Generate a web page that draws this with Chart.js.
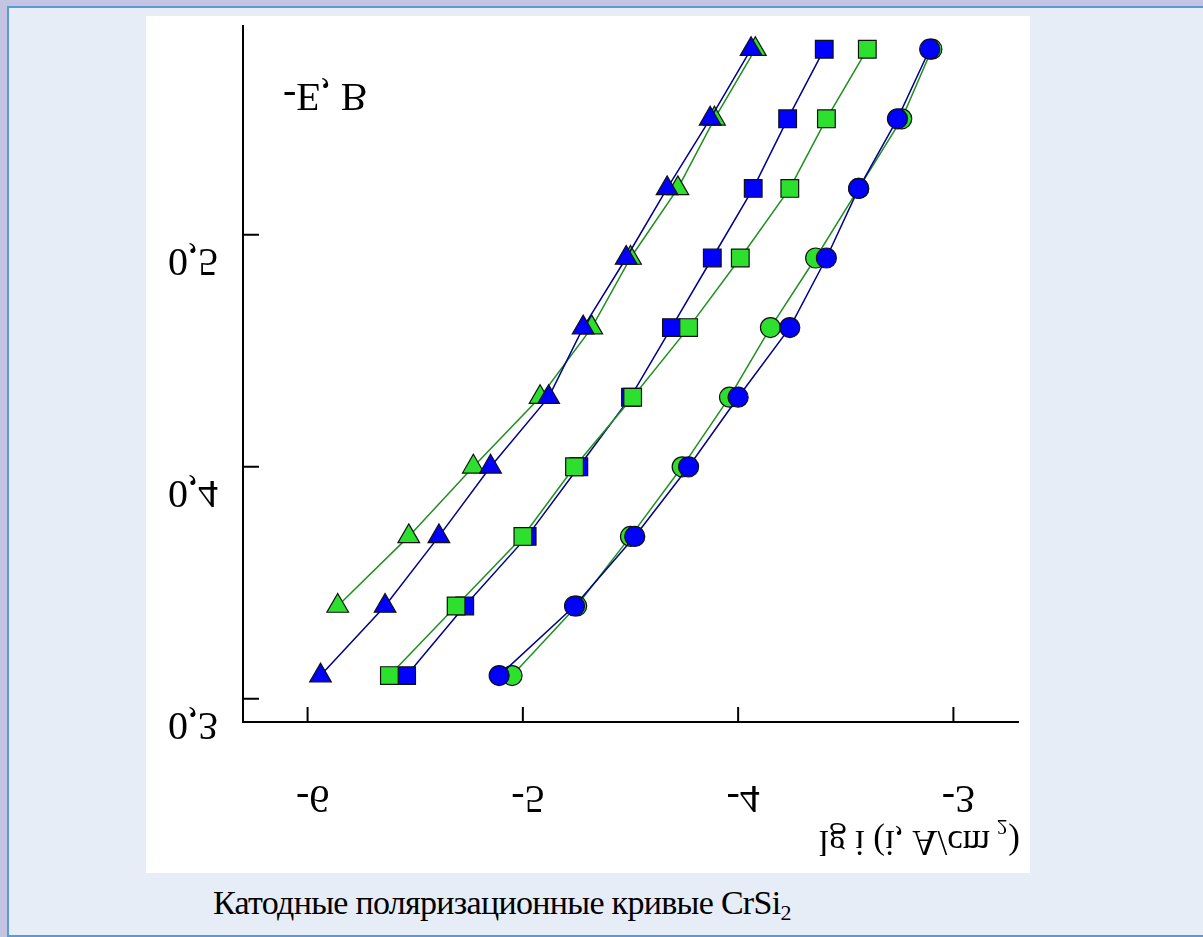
<!DOCTYPE html>
<html>
<head>
<meta charset="utf-8">
<script src="https://cdn.jsdelivr.net/npm/chart.js@4.4.1/dist/chart.umd.min.js"></script>
<style>
  body { margin: 0; width: 1203px; height: 937px; overflow: hidden; background: #c3c4e2; position: relative; }
  #panel { position: absolute; left: 7px; top: 6px; width: 1200px; height: 927px; border: 2px solid #5b9bd5; background: #e6edf6; }
  #plot { position: absolute; left: 146px; top: 16px; width: 884px; height: 857px; background: #fff; }
  #caption { position: absolute; left: 213px; top: 884px; font-family: "Liberation Serif", "Times New Roman", "DejaVu Serif", serif; font-size: 34px; letter-spacing: -0.7px; color: #000; white-space: nowrap; }
  #caption sub { font-size: 22px; vertical-align: -6px; line-height: 0; }
</style>
</head>
<body>
<div id="panel"></div>
<div id="plot"><canvas id="myChart" width="884" height="857"></canvas></div>
<div id="caption">Катодные поляризационные кривые CrSi<sub>2</sub></div>
<script>
// -E, V (rows of measurements)
const potential = [0.31, 0.34, 0.37, 0.40, 0.43, 0.46, 0.49, 0.52, 0.55, 0.58];

// lg i for every curve, same order as potential (null = no point)
const blueTriangles = [-5.94, -5.64, -5.39, -5.15, -4.88, -4.72, -4.52, -4.33, -4.13, -3.94];
const greenTriangles = [null, -5.86, -5.53, -5.23, -4.92, -4.68, -4.50, -4.28, -4.11, -3.92];
const blueSquares = [-5.54, -5.27, -4.98, -4.74, -4.50, -4.31, -4.12, -3.93, -3.77, -3.60];
const greenSquares = [-5.62, -5.31, -5.00, -4.76, -4.49, -4.23, -3.99, -3.76, -3.59, -3.40];
const blueCircles = [-5.11, -4.76, -4.48, -4.23, -4.00, -3.76, -3.59, -3.44, -3.26, -3.11];
const greenCircles = [-5.05, -4.75, -4.50, -4.26, -4.04, -3.85, -3.64, -3.44, -3.24, -3.10];

const xTicks = [-6, -5, -4, -3];
const xTickLabels = ["-6", "-5", "-4", "-3"];
const yTicks = [0.3, 0.4, 0.5];
const yTickLabels = ["0,3", "0,4", "0,5"];

const BLUE = "#0000ff";
const GREEN = "#2ee02e";
const BLUE_LINE = "#00008b";
const GREEN_LINE = "#1f8f1f";
const SERIF = '"Liberation Serif", "Times New Roman", "DejaVu Serif", serif';

function toPoints(values) {
  const pts = [];
  for (let i = 0; i < values.length; i++) {
    if (values[i] !== null) pts.push({ x: values[i], y: potential[i] });
  }
  return pts;
}

function makeSet(label, values, fill, line, shape, radius, order) {
  return {
    label: label,
    data: toPoints(values),
    showLine: true,
    borderColor: line,
    borderWidth: 1.5,
    pointStyle: shape,
    pointRadius: radius,
    pointBackgroundColor: fill,
    pointBorderColor: "#111",
    pointBorderWidth: 1.2,
    order: order,
  };
}

// the text of the original picture is mirrored top-to-bottom
function flippedText(ctx, text, x, y, align, size) {
  ctx.save();
  ctx.translate(x, y);
  ctx.scale(1, -1);
  ctx.font = size + "px " + SERIF;
  ctx.fillStyle = "#000";
  ctx.textAlign = align;
  ctx.textBaseline = "middle";
  ctx.fillText(text, 0, 0);
  ctx.restore();
}

const axisExtras = {
  id: "axisExtras",
  afterDraw(chart) {
    const ctx = chart.ctx;
    const xs = chart.scales.x;
    const ys = chart.scales.y;
    const area = chart.chartArea;

    ctx.save();
    ctx.strokeStyle = "#000";
    ctx.lineWidth = 2;
    ctx.beginPath();
    xTicks.forEach((v) => {
      const px = xs.getPixelForValue(v);
      ctx.moveTo(px, area.bottom);
      ctx.lineTo(px, area.bottom - 15);
    });
    yTicks.forEach((v) => {
      const py = ys.getPixelForValue(v);
      ctx.moveTo(area.left, py);
      ctx.lineTo(area.left + 16, py);
    });
    ctx.stroke();
    ctx.restore();

    xTicks.forEach((v, i) => {
      flippedText(ctx, xTickLabels[i], xs.getPixelForValue(v) + 5, area.bottom + 74, "center", 40);
    });
    yTicks.forEach((v, i) => {
      flippedText(ctx, yTickLabels[i], 47, ys.getPixelForValue(v) + 25, "center", 40);
    });

    flippedText(ctx, "-E, B", 137, 78, "left", 40);
    flippedText(ctx, "lg i (i, A/cm", 844, 824, "right", 35);
    flippedText(ctx, "2", 851, 810, "left", 21);
    flippedText(ctx, ")", 874, 824, "right", 35);
  },
};

const ctx = document.getElementById("myChart");
new Chart(ctx, {
  type: "scatter",
  data: {
    datasets: [
      makeSet("green triangles", greenTriangles, GREEN, GREEN_LINE, "triangle", 12.5, 6),
      makeSet("blue triangles", blueTriangles, BLUE, BLUE_LINE, "triangle", 12.5, 5),
      makeSet("blue squares", blueSquares, BLUE, BLUE_LINE, "rect", 12.5, 4),
      makeSet("green squares", greenSquares, GREEN, GREEN_LINE, "rect", 12.5, 3),
      makeSet("green circles", greenCircles, GREEN, GREEN_LINE, "circle", 10, 2),
      makeSet("blue circles", blueCircles, BLUE, BLUE_LINE, "circle", 10, 1),
    ],
  },
  options: {
    responsive: false,
    animation: false,
    layout: { autoPadding: false, padding: { left: 97, top: 10, right: 12, bottom: 151 } },
    plugins: {
      legend: { display: false },
      tooltip: { enabled: false },
    },
    scales: {
      x: {
        type: "linear",
        min: -6.3,
        max: -2.7,
        grid: { display: false },
        border: { display: true, color: "#000", width: 2 },
        ticks: { display: false },
        afterFit: (scale) => { scale.height = 0; },
      },
      y: {
        type: "linear",
        min: 0.29,
        max: 0.59,
        grid: { display: false },
        border: { display: true, color: "#000", width: 2 },
        ticks: { display: false },
        afterFit: (scale) => { scale.width = 0; },
      },
    },
  },
  plugins: [axisExtras],
});
</script>
</body>
</html>
